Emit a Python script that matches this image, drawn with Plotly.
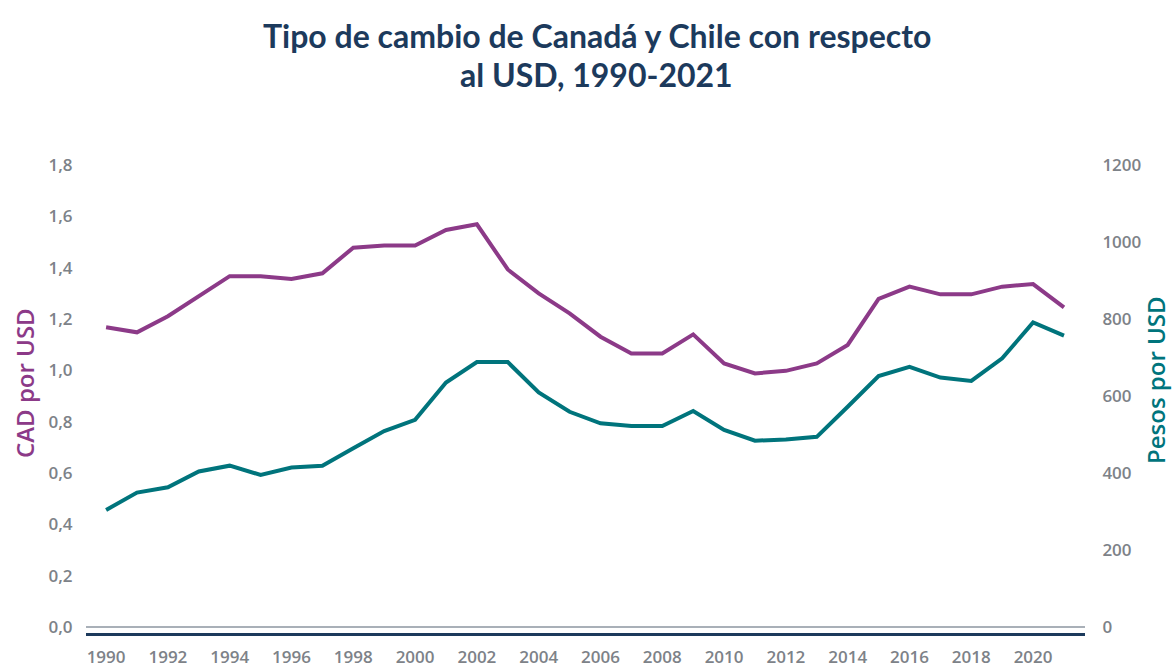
import plotly.graph_objects as go

years = list(range(1990, 2022))
cad_per_usd = [1.168, 1.148, 1.211, 1.287, 1.367, 1.367, 1.356, 1.378, 1.478, 1.486,
               1.486, 1.547, 1.569, 1.393, 1.300, 1.222, 1.131, 1.066, 1.066, 1.140,
               1.027, 0.988, 0.998, 1.027, 1.099, 1.278, 1.326, 1.296, 1.296, 1.326,
               1.336, 1.245]
clp_per_usd = [304, 349, 363, 404, 419, 395, 414, 419, 464, 509,
               538, 635, 688, 688, 609, 559, 529, 522, 522, 561,
               512, 484, 487, 494, 572, 652, 676, 648, 639, 698,
               791, 757]
x_ticks = list(range(1990, 2021, 2))
left_ticks = [0, 0.2, 0.4, 0.6, 0.8, 1.0, 1.2, 1.4, 1.6, 1.8]
right_ticks = [0, 200, 400, 600, 800, 1000, 1200]
title_lines = ["Tipo de cambio de Canadá y Chile con respecto", "al USD, 1990-2021"]
left_title = "CAD por USD"
right_title = "Pesos por USD"

PURPLE = "#8c3a88"
TEAL = "#00747c"
NAVY = "#1c3a5c"
GREY = "#7d8288"
TICKFONT = dict(family="Open Sans", size=17, color=GREY, weight=600)

fig = go.Figure()
fig.add_trace(go.Scatter(x=years, y=cad_per_usd, mode="lines", name=left_title,
                         line=dict(color=PURPLE, width=4), yaxis="y"))
fig.add_trace(go.Scatter(x=years, y=clp_per_usd, mode="lines", name=right_title,
                         line=dict(color=TEAL, width=4), yaxis="y2"))

fig.update_layout(
    width=1176, height=668,
    margin=dict(l=86, r=91, t=165, b=35),
    paper_bgcolor="white", plot_bgcolor="white",
    showlegend=False,
    separators=",.",
    xaxis=dict(range=[1989.35, 2021.68], tickvals=x_ticks, showgrid=False, automargin=False,
               showline=True, linecolor=NAVY, linewidth=3,
               ticks="outside", ticklen=7, tickcolor="rgba(0,0,0,0)", tickfont=TICKFONT),
    yaxis=dict(range=[-0.0234, 1.8], tickvals=left_ticks, tickformat=".1f", automargin=False,
               showgrid=False, zeroline=True, zerolinecolor="#a9b0b8", zerolinewidth=1.5,
               ticks="outside", ticklen=9, tickcolor="rgba(0,0,0,0)", tickfont=TICKFONT),
    yaxis2=dict(range=[-15.6, 1200], tickvals=right_ticks, overlaying="y", side="right",
                showgrid=False, zeroline=False, automargin=False,
                ticks="outside", ticklen=13, tickcolor="rgba(0,0,0,0)", tickfont=TICKFONT),
)

fig.add_annotation(text=title_lines[0], xref="paper", yref="paper", x=0.5, y=1,
                   xanchor="center", yanchor="middle", xshift=11, yshift=130,
                   showarrow=False, font=dict(family="Lato", size=32, color=NAVY, weight=700))
fig.add_annotation(text=title_lines[1], xref="paper", yref="paper", x=0.5, y=1,
                   xanchor="center", yanchor="middle", xshift=11, yshift=91,
                   showarrow=False, font=dict(family="Lato", size=32, color=NAVY, weight=700))
fig.add_annotation(text=left_title, xref="paper", yref="paper", x=0, y=0.5,
                   xanchor="center", yanchor="middle", xshift=-62, yshift=16, textangle=-90,
                   showarrow=False, font=dict(family="Open Sans", size=24, color=PURPLE, weight=600))
fig.add_annotation(text=right_title, xref="paper", yref="paper", x=1, y=0.5,
                   xanchor="center", yanchor="middle", xshift=70, yshift=19, textangle=-90,
                   showarrow=False, font=dict(family="Open Sans", size=24, color=TEAL, weight=600))

fig.write_html("out.html", config={"displayModeBar": False},
               post_script="document.body.style.margin='0';document.body.style.overflow='hidden';")
